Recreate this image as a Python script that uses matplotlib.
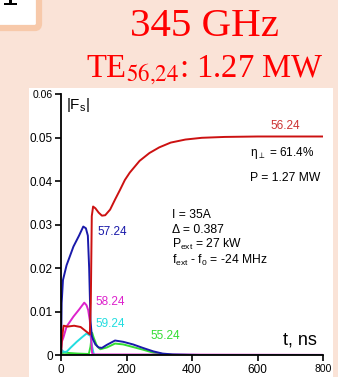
import numpy as np
import matplotlib
matplotlib.use("Agg")
import matplotlib.pyplot as plt
from matplotlib.patches import Rectangle, FancyBboxPatch

plt.rcParams["font.family"] = ["Liberation Sans", "DejaVu Sans"]

# data (t in ns, |Fs|)
t_5624 = [0, 3, 8, 20, 40, 60, 75, 88, 91, 94, 98, 105, 115, 125, 135, 150, 165, 180, 195, 210,
          240, 270, 300, 335, 380, 430, 500, 600, 800]
f_5624 = [0, 0.004, 0.0068, 0.0066, 0.0068, 0.0065, 0.0056, 0.0048, 0.012, 0.032, 0.0342, 0.0338,
          0.0328, 0.0321, 0.0322, 0.0335, 0.0358, 0.038, 0.0403, 0.042, 0.0447, 0.0465, 0.0478,
          0.0489, 0.0496, 0.05, 0.0502, 0.0503, 0.0503]

t_5724 = [0, 2, 6, 17, 38, 55, 68, 76, 82, 86, 90, 94, 98, 105, 115, 125, 140, 165, 190, 220,
          250, 282, 310, 340, 400, 500, 800]
f_5724 = [0, 0.012, 0.0173, 0.0207, 0.025, 0.0275, 0.0296, 0.0292, 0.0275, 0.02, 0.008, 0.0045,
          0.0036, 0.0025, 0.0018, 0.0017, 0.0024, 0.0034, 0.0031, 0.0025, 0.0017, 0.0009, 0.0004,
          0.0002, 0.0001, 0, 0]

t_5524 = [0, 10, 50, 85, 90, 95, 100, 110, 120, 140, 165, 190, 220, 250, 282, 320, 360, 800]
f_5524 = [0.0005, 0.0006, 0.0004, 0.0003, 0.002, 0.0052, 0.004, 0.0021, 0.0014, 0.0018, 0.0027,
          0.0025, 0.0019, 0.0013, 0.0006, 0.0002, 0, 0]

t_5824 = [0, 2, 7, 17, 38, 55, 71, 78, 83, 88, 92, 95, 100, 800]
f_5824 = [0.0005, 0.003, 0.004, 0.0066, 0.0089, 0.0105, 0.0121, 0.0115, 0.0104, 0.008, 0.004,
          0.0005, 0.0002, 0.0001]

t_5924 = [0, 3, 8, 17, 30, 48, 65, 78, 85, 90, 95, 100, 105, 800]
f_5924 = [0, 0.0012, 0.0008, 0.0008, 0.0018, 0.0031, 0.0042, 0.005, 0.0047, 0.0045, 0.002,
          0.0003, 0, 0]

x_ticks = [0, 200, 400, 600, 800]
y_ticks = [0, 0.01, 0.02, 0.03, 0.04, 0.05, 0.06]
y_ticklabels = ["0", "0.01", "0.02", "0.03", "0.04", "0.05", "0.06"]

W, H = 338, 377
fig = plt.figure(figsize=(W / 100, H / 100), dpi=100)
fig.patch.set_facecolor("#FAE3D7")

# slide elements behind the chart (pixel boxes -> figure fraction)
def px_rect(x0, y0, x1, y1):
    return (x0 / W, 1 - y1 / H, (x1 - x0) / W, (y1 - y0) / H)

x, y, w, h = px_rect(-10, -10, 39, 28)
fig.patches.append(FancyBboxPatch((x, y), w, h, boxstyle="round,pad=0,rounding_size=0.012",
                                  transform=fig.transFigure, facecolor="white",
                                  edgecolor="#F7C9AA", linewidth=4.5, zorder=0))
# bottom of a cut-off letter in the corner box
for r in [px_rect(9, 0, 12, 4), px_rect(4, 3, 17, 5)]:
    fig.patches.append(Rectangle(r[:2], r[2], r[3], transform=fig.transFigure,
                                 facecolor="black", edgecolor="none", zorder=1))
x, y, w, h = px_rect(29, 88, 333, 377)
fig.patches.append(Rectangle((x, y), w, h, transform=fig.transFigure,
                             facecolor="white", edgecolor="none", zorder=0))

fig.text(0.605, 0.929, "345 GHz", color="red", fontsize=29.5, family="Liberation Serif",
         ha="center", va="center")
fig.text(0.606, 0.815, r"TE$_{56{,}24}$: 1.27 MW", color="red", fontsize=23.5,
         family="Liberation Serif", ha="center", va="center",
         math_fontfamily="stix")

ax = fig.add_axes([61 / W, 1 - 355.3 / H, 262 / W, (355.3 - 94.3) / H])
ax.set_zorder(3)
ax.patch.set_alpha(0)

ax.plot(t_5524, f_5524, color="#33DD33", lw=1.4)
ax.plot(t_5924, f_5924, color="#22DDE0", lw=1.4)
ax.plot(t_5824, f_5824, color="#DD22CC", lw=1.4)
ax.plot(t_5724, f_5724, color="#1A1AAA", lw=1.4)
ax.plot(t_5624, f_5624, color="#CC1111", lw=1.4)
ax.axhline(0, color="#2E7F80", lw=1.2)

ax.set_xlim(0, 800)
ax.set_ylim(0, 0.06)
ax.set_xticks(x_ticks)
ax.set_yticks(y_ticks)
ax.set_yticklabels(y_ticklabels)
ax.tick_params(labelsize=8.5, length=4, width=1.2, pad=2)
ax.get_yticklabels()[-1].set_fontsize(7.5)
ax.get_xticklabels()[-1].set_fontsize(7.5)
for s in ["top", "right"]:
    ax.spines[s].set_visible(False)
for s in ["left", "bottom"]:
    ax.spines[s].set_linewidth(1.3)

ax.text(15, 0.0575, r"|F$_\mathregular{s}$|", fontsize=11, va="center")
ax.text(640, 0.0527, "56.24", color="#CC3333", fontsize=8.5, va="center")
ax.text(110, 0.0284, "57.24", color="#1A1AAA", fontsize=8.5, va="center")
ax.text(104, 0.0122, "58.24", color="#DD22CC", fontsize=8.5, va="center")
ax.text(104, 0.0072, "59.24", color="#22DDE0", fontsize=8.5, va="center")
ax.text(272, 0.0045, "55.24", color="#33DD33", fontsize=8.5, va="center")

ax.text(577, 0.0465, r"η$_\perp$ = 61.4%", fontsize=8.5, va="center")
ax.text(577, 0.0408, "P = 1.27 MW", fontsize=8.7, va="center")
ax.text(338, 0.0322, "I = 35A", fontsize=8.7, va="center")
ax.text(338, 0.0289, "Δ = 0.387", fontsize=8.7, va="center")
ax.text(338, 0.0254, r"P$_\mathregular{ext}$ = 27 kW", fontsize=8.7, va="center")
ax.text(338, 0.0219, r"f$_\mathregular{ext}$ - f$_\mathregular{0}$ = -24 MHz", fontsize=8.7, va="center")
ax.text(678, 0.0035, "t, ns", fontsize=13, va="center")

fig.savefig("out.png", dpi=100, facecolor=fig.get_facecolor())
